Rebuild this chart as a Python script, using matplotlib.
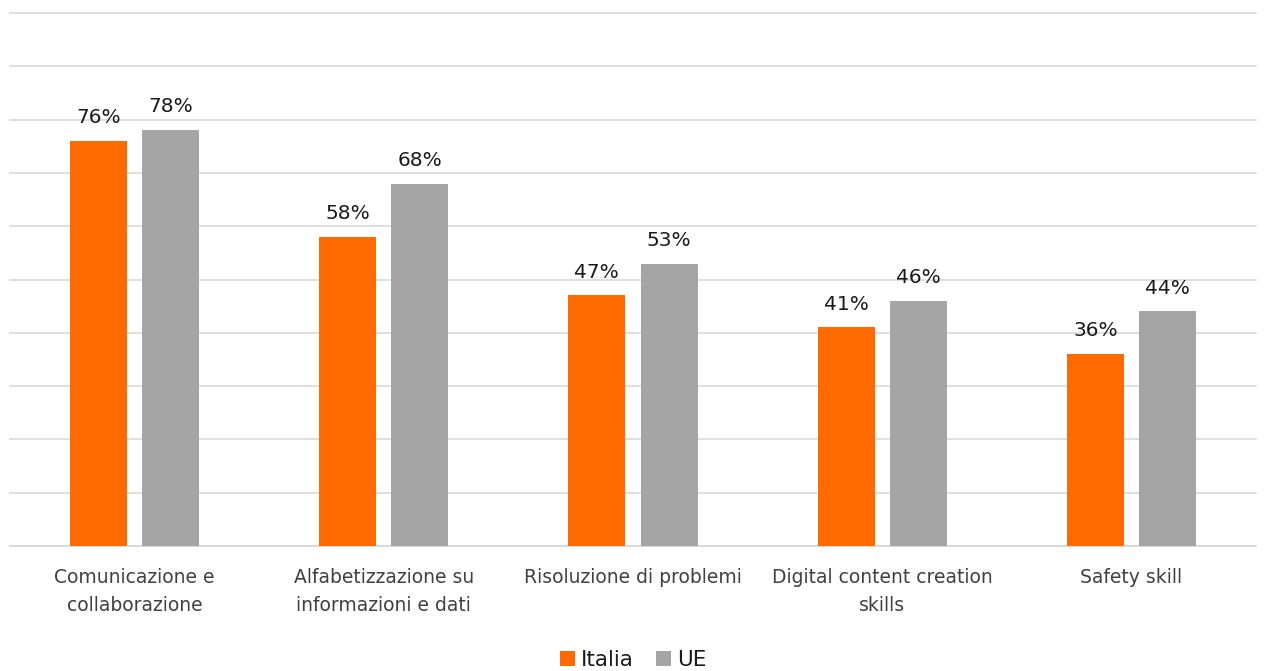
import matplotlib
matplotlib.use("Agg")
import matplotlib.pyplot as plt
import numpy as np

categories = ["Comunicazione e\ncollaborazione", "Alfabetizzazione su\ninformazioni e dati",
              "Risoluzione di problemi", "Digital content creation\nskills", "Safety skill"]
italia = [76, 58, 47, 41, 36]
ue = [78, 68, 53, 46, 44]
series_names = ["Italia", "UE"]
colors = ["#FF6A00", "#A5A5A5"]

plt.rcParams['font.family'] = ['DejaVu Sans']
fig = plt.figure(figsize=(12.66, 6.71), dpi=100)
ax = fig.add_axes([10/1266, 1-546/671, 1246/1266, 533/671])

x = np.arange(len(categories))
w = 0.229
off = 0.145
b1 = ax.bar(x - off, italia, w, color=colors[0], label=series_names[0], zorder=3)
b2 = ax.bar(x + off, ue, w, color=colors[1], label=series_names[1], zorder=3)
for bars, vals in ((b1, italia), (b2, ue)):
    for r, v in zip(bars, vals):
        ax.annotate(f"{v}%", (r.get_x() + r.get_width()/2, v), xytext=(0, 10),
                    textcoords="offset points", ha="center", va="bottom",
                    fontsize=14.5, color="#1a1a1a", zorder=4)

ax.set_xlim(-0.5, len(categories) - 0.5)
ax.set_ylim(0, 100)
ax.set_yticks(np.arange(0, 101, 10))
ax.yaxis.grid(True, color="#D9D9D9", linewidth=1.2, zorder=0)
for gl in ax.get_ygridlines():
    gl.set_clip_on(False)
ax.tick_params(axis="y", left=False, labelleft=False)
ax.tick_params(axis="x", bottom=False, pad=12)
ax.set_xticks(x)
ax.set_xticklabels(categories, fontsize=13.5, color="#404040", linespacing=1.65)
for s in ["top", "right", "left"]:
    ax.spines[s].set_visible(False)
ax.spines["bottom"].set_color("#D9D9D9")
ax.spines["bottom"].set_linewidth(1.2)

fig.legend(handles=[b1, b2], labels=series_names, loc="center", bbox_to_anchor=(0.5, 1-660/671),
           ncol=2, frameon=False, fontsize=15.5, handlelength=0.7, handleheight=0.7,
           handletextpad=0.3, columnspacing=1.0, labelcolor="#1a1a1a")

fig.savefig("out.png", dpi=100)
